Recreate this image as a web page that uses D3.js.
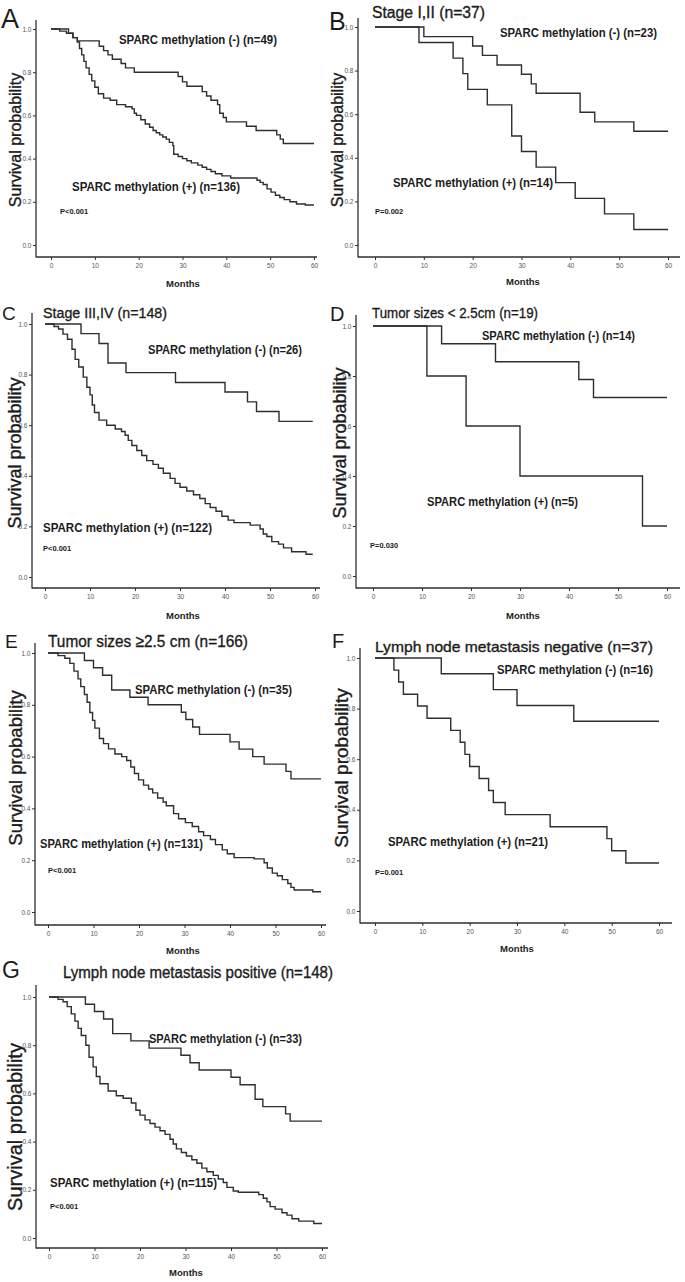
<!DOCTYPE html>
<html>
<head>
<meta charset="utf-8">
<script src="https://d3js.org/d3.v7.min.js"></script>
<style>
  body { margin: 0; background: #fff; }
  svg text { font-family: Arial, "Liberation Sans", sans-serif; fill: #1c1c1c; }
</style>
</head>
<body>
<svg id="fig" width="685" height="1282"></svg>
<script>
// ---- data: Kaplan-Meier steps, [month, survival] ----
var aNeg = [[0,1],[4,0.98],[5,0.96],[6,0.945],[11,0.92],[12,0.90],[13,0.88],[14,0.86],[16,0.84],[17,0.82],[19,0.80],[29,0.78],[30,0.755],[31,0.735],[34.5,0.71],[35.5,0.69],[36.5,0.67],[38,0.65],[38.5,0.61],[39.3,0.59],[40,0.57],[44.6,0.55],[46.8,0.53],[51.5,0.51],[52.3,0.49],[53,0.47],[60,0.47]];
var aPos = [[0,1],[2,0.99],[3.5,0.98],[5,0.96],[6,0.94],[6.5,0.91],[7,0.88],[7.5,0.85],[8,0.82],[8.7,0.79],[9.3,0.76],[10,0.73],[10.8,0.70],[12,0.68],[13.5,0.67],[15,0.65],[17,0.64],[18.5,0.63],[19,0.61],[19.5,0.60],[20.5,0.58],[21.5,0.56],[22.5,0.545],[23.3,0.53],[24,0.52],[24.8,0.51],[25.5,0.50],[26.3,0.49],[27,0.475],[27.8,0.46],[28,0.42],[29,0.41],[30,0.40],[31,0.39],[32,0.38],[33.5,0.37],[34.5,0.36],[35.5,0.35],[36.5,0.34],[37.5,0.33],[39,0.32],[41,0.31],[47,0.30],[47.7,0.29],[48.4,0.28],[49.3,0.26],[50.2,0.245],[51.2,0.23],[52.2,0.22],[53.2,0.21],[54.5,0.20],[56,0.19],[58,0.185],[60,0.185]];
var bNeg = [[0,1],[10,0.956],[20,0.913],[22,0.87],[25,0.826],[30,0.783],[32,0.739],[33,0.696],[42,0.609],[45,0.565],[53,0.522],[60,0.522]];
var bPos = [[0,1],[9,0.929],[16,0.857],[18,0.786],[19,0.714],[23,0.643],[28,0.5],[30,0.429],[33,0.357],[37,0.286],[41,0.214],[47,0.143],[53,0.071],[60,0.071]];
var cNeg = [[0,1],[8,0.962],[12,0.923],[14,0.846],[18,0.808],[29,0.769],[40,0.731],[45,0.692],[47,0.654],[52,0.615],[59.5,0.615]];
var cPos = [[0,1],[2,0.99],[3,0.98],[4,0.96],[5,0.94],[6,0.90],[6.7,0.86],[7.5,0.83],[8.5,0.79],[9.3,0.75],[10,0.72],[10.5,0.68],[11,0.65],[12,0.62],[13.7,0.60],[15.6,0.585],[17,0.575],[17.8,0.56],[18.5,0.54],[19.3,0.52],[20.4,0.50],[21.5,0.48],[22.6,0.46],[24,0.445],[25.2,0.43],[26.3,0.41],[27.8,0.39],[28.9,0.37],[30,0.355],[31.5,0.34],[33,0.325],[34.4,0.31],[35.6,0.29],[36.7,0.275],[38,0.26],[39.3,0.24],[40.7,0.225],[42,0.215],[45.6,0.205],[47.8,0.19],[48.5,0.17],[49.3,0.16],[50.4,0.14],[51.9,0.13],[53,0.115],[54.8,0.10],[58,0.09],[59.5,0.09]];
var dNeg = [[0,1],[14,0.929],[25,0.857],[42,0.786],[45,0.714],[60,0.714]];
var dPos = [[0,1],[11,0.8],[19,0.6],[30,0.4],[55,0.2],[60,0.2]];
var eNeg = [[0,1],[8,0.971],[10,0.943],[12,0.914],[14,0.857],[18,0.829],[22,0.80],[29.3,0.771],[30.3,0.743],[31.8,0.714],[33.3,0.686],[40,0.657],[42,0.629],[45,0.60],[47.5,0.571],[52.3,0.543],[53.4,0.514],[60,0.514]];
var ePos = [[0,1],[2.2,0.99],[3.7,0.98],[4.8,0.96],[5.7,0.93],[6.6,0.90],[7.2,0.87],[8,0.84],[8.6,0.81],[9.2,0.77],[9.8,0.74],[10.3,0.71],[11.3,0.67],[12.2,0.65],[13.3,0.63],[14.7,0.61],[16.2,0.60],[17.3,0.585],[18.2,0.56],[19,0.535],[19.9,0.51],[21,0.49],[22.1,0.475],[23,0.46],[24.1,0.44],[25.3,0.425],[26,0.41],[27.6,0.38],[28.7,0.36],[30.2,0.345],[31.7,0.33],[33.1,0.31],[34.2,0.295],[35.7,0.28],[36.8,0.26],[38.3,0.24],[39.4,0.225],[40.9,0.21],[45.3,0.205],[47.5,0.19],[48.2,0.17],[49.3,0.15],[50.4,0.14],[51.5,0.125],[52.7,0.11],[53.4,0.095],[54.1,0.085],[58.2,0.078],[60,0.078]];
var fNeg = [[0,1],[14,0.9375],[25,0.875],[30,0.8125],[42,0.75],[60,0.75]];
var fPos = [[0,1],[4,0.952],[5,0.905],[6,0.857],[9,0.810],[11,0.762],[16,0.714],[18,0.667],[19,0.619],[20,0.571],[22,0.524],[24,0.476],[25,0.429],[27.5,0.381],[37,0.333],[49,0.286],[50,0.238],[53,0.19],[60,0.19]];
var gNeg = [[0,1],[8,0.97],[10,0.94],[12,0.909],[14,0.848],[18,0.818],[22,0.788],[29,0.758],[31,0.727],[33,0.697],[40,0.667],[42,0.636],[45.3,0.576],[47,0.545],[52,0.515],[53,0.485],[60,0.485]];
var gPos = [[0,1],[2,0.99],[3.1,0.98],[4,0.96],[4.9,0.93],[5.7,0.90],[6.4,0.87],[7.1,0.84],[8.1,0.80],[8.8,0.75],[9.7,0.71],[10.4,0.67],[11.2,0.64],[13,0.61],[14.8,0.59],[16.3,0.58],[18.1,0.56],[19.1,0.53],[20,0.51],[21.1,0.49],[22.2,0.475],[23.3,0.46],[24.4,0.445],[25.5,0.43],[26.6,0.41],[27.3,0.39],[28,0.37],[29.1,0.355],[30.2,0.34],[31.4,0.325],[32.5,0.31],[33.6,0.29],[34.7,0.275],[36.1,0.26],[37.2,0.245],[38.3,0.23],[39.1,0.21],[40.5,0.195],[41.6,0.19],[46.1,0.18],[47.1,0.165],[47.9,0.15],[48.6,0.13],[49.7,0.12],[51.2,0.105],[52.3,0.095],[53.4,0.08],[54.9,0.07],[58.2,0.06],[60,0.06]];

var negCurves = [aNeg, bNeg, cNeg, dNeg, eNeg, fNeg, gNeg];
var posCurves = [aPos, bPos, cPos, dPos, ePos, fPos, gPos];

var xTicks = [0, 10, 20, 30, 40, 50, 60];
var yTicks = [0, 0.2, 0.4, 0.6, 0.8, 1.0];

var panelLetters = ["A", "B", "C", "D", "E", "F", "G"];
var panelTitles = ["", "Stage I,II (n=37)", "Stage III,IV (n=148)", "Tumor sizes < 2.5cm (n=19)",
    "Tumor sizes \u22652.5 cm (n=166)", "Lymph node metastasis negative (n=37)", "Lymph node metastasis positive (n=148)"];
var negLabels = ["SPARC methylation (-) (n=49)", "SPARC methylation (-) (n=23)", "SPARC methylation (-) (n=26)",
    "SPARC methylation (-) (n=14)", "SPARC methylation (-) (n=35)", "SPARC methylation (-) (n=16)", "SPARC methylation (-) (n=33)"];
var posLabels = ["SPARC methylation (+) (n=136)", "SPARC methylation (+) (n=14)", "SPARC methylation (+) (n=122)",
    "SPARC methylation (+) (n=5)", "SPARC methylation (+) (n=131)", "SPARC methylation (+) (n=21)", "SPARC methylation (+) (n=115)"];
var pValues = ["P<0.001", "P=0.002", "P<0.001", "P=0.030", "P<0.001", "P=0.001", "P<0.001"];

// ---- layout of each panel (pixels) ----
// ax: y axis x, x0/x60: month 0/60, y1/y0: survival 1/0, top: y axis top, xa: x axis y, right: x axis end
var layout = [
    {ax: 36, x0: 51, x60: 314, right: 317, y1: 29, y0: 245, top: 20, xa: 257,
     L: [1, 28, 27], T: null, Y: [15, 140, 16], N: [119, 40, 158], P: [72, 187, 168], PV: [60, 211], M: [183, 283]},
    {ax: 358, x0: 375, x60: 668, right: 680, y1: 27, y0: 245, top: 18, xa: 257,
     L: [329, 30, 25], T: [372, 18, 16, 113], Y: [337, 140, 16], N: [500, 33, 157], P: [393, 183, 160], PV: [375, 211], M: [523, 281]},
    {ax: 32, x0: 45, x60: 315, right: 320, y1: 324, y0: 577, top: 313, xa: 588,
     L: [2, 320, 19], T: [43, 318, 15.5, 124], Y: [15, 453, 18], N: [148, 350, 154], P: [43, 528, 169], PV: [43, 548], M: [183, 615]},
    {ax: 356, x0: 373, x60: 667, right: 680, y1: 326, y0: 576, top: 315, xa: 588,
     L: [330, 321, 20], T: [372, 318, 15.5, 166], Y: [340, 443, 18], N: [482, 336, 153], P: [427, 502, 151], PV: [370, 545], M: [523, 615]},
    {ax: 35, x0: 48, x60: 321, right: 326, y1: 653, y0: 912, top: 643, xa: 925,
     L: [5, 648, 19], T: [48, 647, 17, 200], Y: [15, 768, 18.5], N: [135, 690, 157], P: [40, 844, 163], PV: [48, 870], M: [183, 950]},
    {ax: 360, x0: 375, x60: 659, right: 672, y1: 658, y0: 911, top: 648, xa: 923,
     L: [332, 648, 20], T: [375, 652, 15, 278], Y: [341, 768, 19], N: [497, 670, 156], P: [388, 842, 160], PV: [375, 872], M: [517, 948]},
    {ax: 36, x0: 49, x60: 322, right: 328, y1: 997, y0: 1238, top: 985, xa: 1248,
     L: [2, 978, 23], T: [63, 978, 16, 270], Y: [15, 1127, 20], N: [149, 1039, 153], P: [50, 1183, 167], PV: [50, 1206], M: [186, 1272]}
];

var svg = d3.select("#fig");
svg.append("rect").attr("width", 685).attr("height", 1282).attr("fill", "#fff");

var ink = "#2e2e2e";

layout.forEach(function (p, i) {
    var g = svg.append("g");
    var xs = d3.scaleLinear().domain([0, 60]).range([p.x0, p.x60]);
    var ys = d3.scaleLinear().domain([0, 1]).range([p.y0, p.y1]);

    // axes
    var yAxis = g.append("g")
        .attr("transform", "translate(" + p.ax + ",0)")
        .call(d3.axisLeft(ys).tickValues(yTicks).tickSize(3).tickPadding(1.5).tickFormat(d3.format(".1f")));
    var xAxis = g.append("g")
        .attr("transform", "translate(0," + p.xa + ")")
        .call(d3.axisBottom(xs).tickValues(xTicks).tickSize(3).tickPadding(3));
    [yAxis, xAxis].forEach(function (a) {
        a.select(".domain").remove();
        a.attr("font-size", 6.5).attr("font-family", null);
        a.selectAll(".tick line").attr("stroke", ink).attr("stroke-width", 1);
        a.selectAll(".tick text").style("fill", "#555");
    });
    g.append("line").attr("x1", p.ax).attr("x2", p.ax).attr("y1", p.top).attr("y2", p.xa + 0.6)
        .attr("stroke", ink).attr("stroke-width", 1.3);
    g.append("line").attr("x1", p.ax).attr("x2", p.right).attr("y1", p.xa).attr("y2", p.xa)
        .attr("stroke", ink).attr("stroke-width", 1.3);

    // survival curves
    var line = d3.line()
        .x(function (d) { return xs(d[0]); })
        .y(function (d) { return ys(d[1]); })
        .curve(d3.curveStepAfter);
    [negCurves[i], posCurves[i]].forEach(function (c) {
        g.append("path").attr("d", line(c))
            .attr("fill", "none").attr("stroke", ink).attr("stroke-width", 1.4);
    });

    // panel letter and title
    g.append("text").attr("x", p.L[0]).attr("y", p.L[1])
        .style("font-size", p.L[2] + "px").text(panelLetters[i]);
    if (p.T) {
        g.append("text").attr("x", p.T[0]).attr("y", p.T[1])
            .style("font-size", p.T[2] + "px")
            .style("stroke", "#1c1c1c").style("stroke-width", 0.35)
            .attr("textLength", p.T[3]).attr("lengthAdjust", "spacingAndGlyphs")
            .text(panelTitles[i]);
    }

    // y label
    g.append("text")
        .attr("transform", "translate(" + p.Y[0] + "," + p.Y[1] + ") rotate(-90)")
        .attr("text-anchor", "middle").attr("dominant-baseline", "central")
        .style("font-size", p.Y[2] + "px")
        .style("stroke", "#1c1c1c").style("stroke-width", 0.35)
        .text("Survival probability");

    // group labels
    g.append("text").attr("x", p.N[0]).attr("y", p.N[1])
        .attr("dominant-baseline", "central")
        .style("font-size", "12px").style("font-weight", "bold")
        .attr("textLength", p.N[2]).attr("lengthAdjust", "spacingAndGlyphs")
        .text(negLabels[i]);
    g.append("text").attr("x", p.P[0]).attr("y", p.P[1])
        .attr("dominant-baseline", "central")
        .style("font-size", "12px").style("font-weight", "bold")
        .attr("textLength", p.P[2]).attr("lengthAdjust", "spacingAndGlyphs")
        .text(posLabels[i]);

    // p-value and x label
    g.append("text").attr("x", p.PV[0]).attr("y", p.PV[1])
        .attr("dominant-baseline", "central")
        .style("font-size", "7.5px").style("font-weight", "bold")
        .text(pValues[i]);
    g.append("text").attr("x", p.M[0]).attr("y", p.M[1])
        .attr("text-anchor", "middle").attr("dominant-baseline", "central")
        .style("font-size", "9.5px").style("font-weight", "bold")
        .text("Months");
});
</script>
</body>
</html>
